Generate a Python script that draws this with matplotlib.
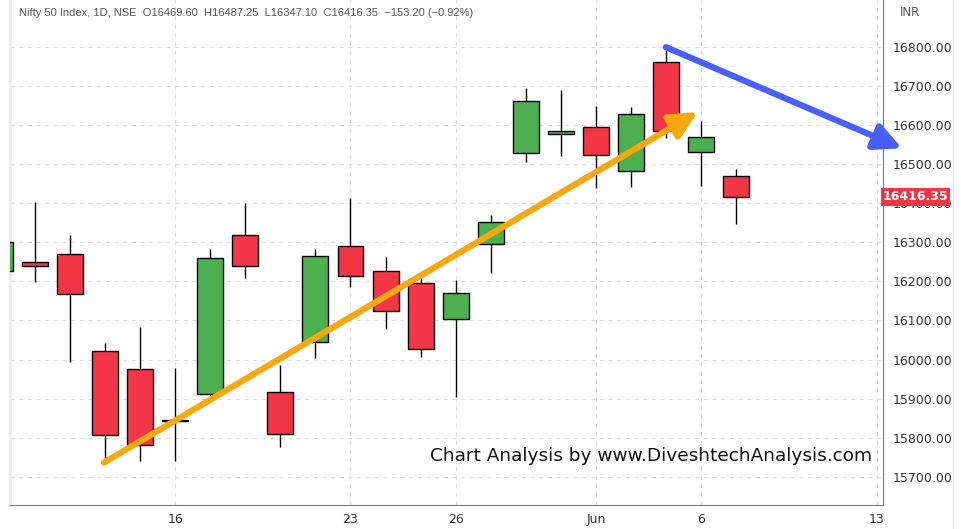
import matplotlib.pyplot as plt
from matplotlib.lines import Line2D
import numpy as np

# Nifty 50 daily candles, 9 May - 7 Jun 2022
dates = ['2022-05-09', '2022-05-10', '2022-05-11', '2022-05-12', '2022-05-13',
         '2022-05-16', '2022-05-17', '2022-05-18', '2022-05-19', '2022-05-20',
         '2022-05-23', '2022-05-24', '2022-05-25', '2022-05-26', '2022-05-27',
         '2022-05-30', '2022-05-31', '2022-06-01', '2022-06-02', '2022-06-03',
         '2022-06-06', '2022-06-07']
opens = [16227.7, 16248.9, 16270.05, 16021.1, 15977.0,
         15845.1, 15912.6, 16318.15, 15917.4, 16043.8,
         16290.95, 16225.55, 16196.35, 16105.0, 16296.6,
         16527.9, 16578.45, 16594.4, 16481.65, 16761.65,
         16530.7, 16469.6]
highs = [16403.7, 16404.55, 16318.75, 16041.95, 16083.6,
         15977.95, 16284.25, 16399.8, 15984.75, 16283.05,
         16414.7, 16262.8, 16223.35, 16204.45, 16370.6,
         16695.5, 16690.75, 16649.2, 16646.4, 16793.85,
         16610.95, 16487.25]
lows = [16142.1, 16197.3, 15992.6, 15735.75, 15740.85,
        15739.65, 15900.8, 16209.2, 15775.2, 16003.85,
        16185.75, 16078.6, 16006.95, 15903.7, 16221.95,
        16506.15, 16521.75, 16438.85, 16443.05, 16567.9,
        16444.55, 16347.1]
closes = [16301.85, 16240.05, 16167.1, 15808.0, 15782.15,
          15842.3, 16259.3, 16240.3, 15809.4, 16266.15,
          16214.7, 16125.15, 16025.8, 16170.15, 16352.45,
          16661.4, 16584.55, 16522.75, 16628.0, 16584.3,
          16569.55, 16416.35]

tick_dates = ['2022-05-16', '2022-05-23', '2022-05-26', '2022-06-01', '2022-06-06', '2022-06-13']
tick_labels = ['16', '23', '26', 'Jun', '6', '13']
price_ticks = [15700, 15800, 15900, 16000, 16100, 16200, 16300, 16400, 16500, 16600, 16700, 16800]

# drawn trend arrows (x in trading days from first date, y in price)
up_arrow_x = [2.97, 19.9]
up_arrow_y = [15736, 16634]
down_arrow_x = [18.99, 25.72]
down_arrow_y = [16800, 16541]

last_price = 16416.35
title = ("Nifty 50 Index, 1D, NSE  O16469.60  H16487.25  L16347.10  "
         "C16416.35  \u2212153.20 (\u22120.92%)")

RED = '#F23645'
GREEN = '#4CAF50'

fig = plt.figure(figsize=(9.62, 5.29), dpi=100)
ax = fig.add_axes([10 / 962, 24 / 529, 873 / 962, 505 / 529])

x = np.array([np.busday_count(dates[0], d) for d in dates])
o = np.array(opens)
c = np.array(closes)
colors = [GREEN if cc >= oo else RED for oo, cc in zip(o, c)]

# wicks then bodies
ax.vlines(x, lows, highs, color='black', linewidth=1, zorder=3)
ax.bar(x, np.maximum(np.abs(c - o), 1.0), bottom=np.minimum(o, c), width=0.74,
       color=colors, edgecolor='black', linewidth=1, zorder=4)

arrow_style = '-|>,head_length=0.65,head_width=0.32'
ax.annotate('', xy=(up_arrow_x[1], up_arrow_y[1]), xytext=(up_arrow_x[0], up_arrow_y[0]),
            arrowprops=dict(arrowstyle=arrow_style, color='#F7A80F',
                            lw=4.5, mutation_scale=25, shrinkA=0, shrinkB=0), zorder=6)
ax.annotate('', xy=(down_arrow_x[1], down_arrow_y[1]), xytext=(down_arrow_x[0], down_arrow_y[0]),
            arrowprops=dict(arrowstyle=arrow_style, color='#4A5FF7',
                            lw=4.5, mutation_scale=25, shrinkA=0, shrinkB=0, clip_on=False),
            annotation_clip=False, zorder=6)

ax.set_xlim(0.294, 25.18)
ax.set_ylim(15627.5, 16920.7)

ax.set_xticks([np.busday_count(dates[0], d) for d in tick_dates])
ax.set_xticklabels(tick_labels)
ax.set_yticks(price_ticks)
ax.set_yticklabels([f'{p:.2f}' for p in price_ticks])
ax.yaxis.tick_right()
ax.tick_params(axis='both', length=0, labelsize=9, colors='#333333')
ax.tick_params(axis='y', pad=7)
ax.tick_params(axis='x', pad=6)
ax.grid(True, color='#dcdce2', linestyle=(0, (3.6, 4.2)), linewidth=0.8)
ax.set_axisbelow(True)

ax.spines['top'].set_visible(False)
ax.spines['left'].set_color('#ececec')
ax.spines['left'].set_linewidth(2)
ax.spines['right'].set_color('#777777')
ax.spines['bottom'].set_color('#777777')

ax.text(0.0103, 0.974, title, transform=ax.transAxes, fontsize=8, color='#555555',
        family='Liberation Sans', va='center', ha='left')
ax.text(0.734, 0.097, 'Chart Analysis by www.DiveshtechAnalysis.com', transform=ax.transAxes,
        fontsize=13.3, color='#111111', va='center', ha='center', zorder=7)
ax.text(1.0372, last_price, f'{last_price:.2f}', transform=ax.get_yaxis_transform(),
        fontsize=9, color='white', fontweight='bold', va='center', ha='center', clip_on=False,
        bbox=dict(boxstyle='square,pad=0.17', facecolor=RED, edgecolor='none'), zorder=8)
fig.text(900 / 962, 1 - 13 / 529, 'INR', fontsize=8.5, color='#555555', va='center', ha='left')
fig.add_artist(Line2D([953.5 / 962, 953.5 / 962], [0, 1], transform=fig.transFigure,
                      color='#e8e8e8', linewidth=1))

fig.savefig('out.png', dpi=100)
